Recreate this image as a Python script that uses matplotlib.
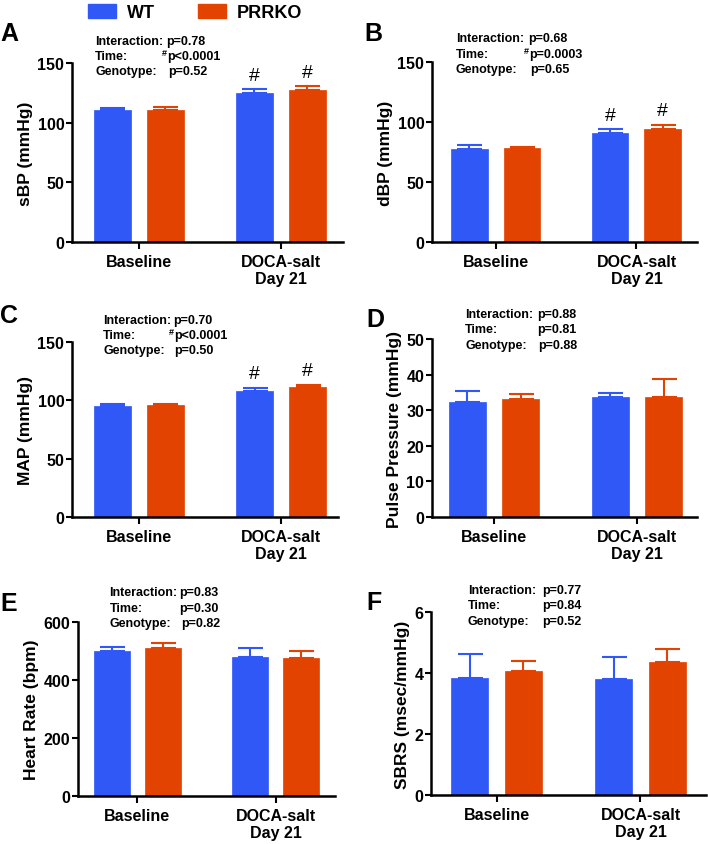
import matplotlib
matplotlib.use("Agg")
import matplotlib.pyplot as plt
from matplotlib.patches import Patch

plt.rcParams['font.family'] = ['Liberation Sans', 'DejaVu Sans']
plt.rcParams['font.weight'] = 'bold'
plt.rcParams['axes.labelweight'] = 'bold'

W, H = 708, 845
categories = ["Baseline", "DOCA-salt\nDay 21"]
groups = ["WT", "PRRKO"]
colors = ["#2F58F6", "#E24300"]

panel_letters = ["A", "B", "C", "D", "E", "F"]
ylabels = ["sBP (mmHg)", "dBP (mmHg)", "MAP (mmHg)", "Pulse Pressure (mmHg)",
           "Heart Rate (bpm)", "SBRS (msec/mmHg)"]
yticks = [[0, 50, 100, 150], [0, 50, 100, 150], [0, 50, 100, 150],
          [0, 10, 20, 30, 40, 50], [0, 200, 400, 600], [0, 2, 4, 6]]

sbp_wt = [110.5, 124.6]; sbp_wt_sem = [1.5, 3.4]
sbp_ko = [111.0, 127.7]; sbp_ko_sem = [2.0, 2.8]
dbp_wt = [77.8, 91.1]; dbp_wt_sem = [3.0, 2.9]
dbp_ko = [78.0, 94.0]; dbp_ko_sem = [1.0, 3.5]
map_wt = [95.1, 108.3]; map_wt_sem = [1.8, 2.6]
map_ko = [96.0, 111.1]; map_ko_sem = [1.0, 2.4]
pp_wt = [32.3, 33.6]; pp_wt_sem = [3.0, 1.2]
pp_ko = [33.2, 33.6]; pp_ko_sem = [1.3, 5.2]
hr_wt = [500, 479]; hr_wt_sem = [15, 31]
hr_ko = [509, 476.6]; hr_ko_sem = [18.5, 23.4]
sbrs_wt = [3.85, 3.79]; sbrs_wt_sem = [0.76, 0.73]
sbrs_ko = [4.06, 4.37]; sbrs_ko_sem = [0.32, 0.41]

wt_vals = [sbp_wt, dbp_wt, map_wt, pp_wt, hr_wt, sbrs_wt]
wt_sems = [sbp_wt_sem, dbp_wt_sem, map_wt_sem, pp_wt_sem, hr_wt_sem, sbrs_wt_sem]
ko_vals = [sbp_ko, dbp_ko, map_ko, pp_ko, hr_ko, sbrs_ko]
ko_sems = [sbp_ko_sem, dbp_ko_sem, map_ko_sem, pp_ko_sem, hr_ko_sem, sbrs_ko_sem]

p_interaction = ["p=0.78", "p=0.68", "p=0.70", "p=0.88", "p=0.83", "p=0.77"]
p_time = ["p<0.0001", "p=0.0003", "p<0.0001", "p=0.81", "p=0.30", "p=0.84"]
p_genotype = ["p=0.52", "p=0.65", "p=0.50", "p=0.88", "p=0.82", "p=0.52"]
time_sig = [True, True, True, False, False, False]
hash_marks = [True, True, True, False, False, False]

# layout (pixels): left, right, top, bottom
rects = [(72, 343, 64, 243), (432, 697, 63, 243), (72, 338, 343, 518),
         (432, 697, 340, 518), (78, 335, 623, 797), (431, 706, 613, 796)]
xlims = [(-0.47, 1.437), (-0.452, 1.43), (-0.47, 1.40),
         (-0.434, 1.42), (-0.43, 1.43), (-0.455, 1.455)]
letter_pos = [(0, 22), (364, 22), (0, 304), (366, 308), (0, 592), (366, 591)]
annot_pos = [(95, 41.7), (456, 39.3), (103, 320.7), (465, 315), (109.5, 593.3), (468, 591)]
val_off = [71, 72, 70, 72, 70, 74]
geno_shift = [2, 2, 1, 1.5, 1.5, 0]

fig = plt.figure(figsize=(W / 100, H / 100), dpi=100)

bw = 0.26
off = 0.187
for i in range(6):
    l, r, t, b = rects[i]
    ax = fig.add_axes([l / W, 1 - b / H, (r - l) / W, (b - t) / H])
    xs = [0, 1]
    for g, (vals, sems) in enumerate([(wt_vals[i], wt_sems[i]), (ko_vals[i], ko_sems[i])]):
        pos = [x + (-off if g == 0 else off) for x in xs]
        ax.bar(pos, vals, width=bw, color=colors[g], zorder=2, edgecolor=colors[g], linewidth=0.5)
        ax.errorbar(pos, vals, yerr=[[0] * len(vals), sems], fmt='none', ecolor=colors[g],
                    elinewidth=1.5, capsize=9, capthick=1.5, zorder=1)
        if hash_marks[i]:
            ax.annotate("#", xy=(pos[1], vals[1] + sems[1]), xytext=(0, 4),
                        textcoords='offset points', ha='center', va='bottom',
                        fontsize=14, fontweight='normal')
    ax.set_xlim(*xlims[i])
    ax.set_ylim(yticks[i][0], yticks[i][-1])
    ax.set_yticks(yticks[i])
    ax.set_xticks(xs)
    ax.set_xticklabels(categories, fontsize=11.5, fontweight='bold')
    ax.tick_params(axis='y', labelsize=11.5, width=1.5, length=4, pad=1.5)
    ax.tick_params(axis='x', width=1.5, length=5, pad=3.5)
    for lab in ax.get_yticklabels():
        lab.set_fontweight('bold')
    for s in ['top', 'right']:
        ax.spines[s].set_visible(False)
    for s in ['left', 'bottom']:
        ax.spines[s].set_linewidth(1.8)
    ax.set_ylabel(ylabels[i], fontsize=12.5, fontweight='bold', labelpad=3)

    lx, ly = letter_pos[i]
    fig.text(lx / W, 1 - ly / H, panel_letters[i], fontsize=18, fontweight='bold',
             ha='left', va='top')

    ax_, ay_ = annot_pos[i]
    rows = [("Interaction:", p_interaction[i], False),
            ("Time:", p_time[i], time_sig[i]),
            ("Genotype:", p_genotype[i], False)]
    for k, (lab, val, sig) in enumerate(rows):
        yy = ay_ + k * 15.3
        fig.text(ax_ / W, 1 - yy / H, lab, fontsize=9, fontweight='bold', ha='left', va='center')
        vx = ax_ + val_off[i] + (1 if sig else 0) + (geno_shift[i] if k == 2 else 0)
        fig.text(vx / W, 1 - yy / H, val, fontsize=9, fontweight='bold', ha='left', va='center')
        if sig:
            fig.text((vx - 0.3) / W, 1 - (yy - 3.5) / H, "#", fontsize=6.5, fontweight='bold',
                     ha='right', va='center')

handles = [Patch(facecolor=colors[0], edgecolor=colors[0]),
           Patch(facecolor=colors[1], edgecolor=colors[1])]
fig.legend(handles, groups, loc='upper center', bbox_to_anchor=(195 / W, 1.0 + 6 / H), ncol=2,
           frameon=False, prop={'weight': 'bold', 'size': 13}, handlelength=1.55,
           handleheight=0.85, columnspacing=2.4, handletextpad=0.6, borderaxespad=0.2)

fig.savefig("out.png", dpi=100)
